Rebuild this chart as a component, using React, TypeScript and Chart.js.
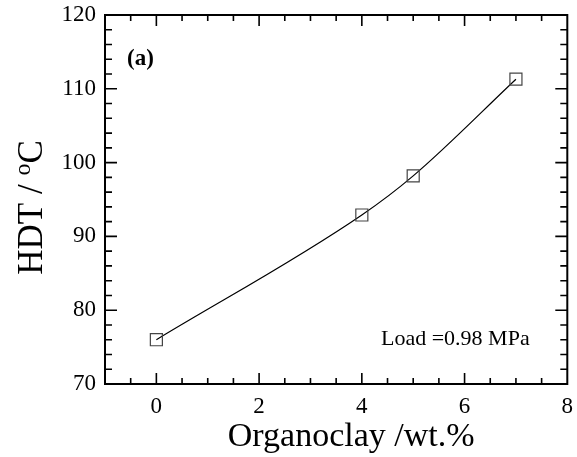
import React, { useEffect, useRef } from 'react';
import { Chart, registerables } from 'chart.js';

Chart.register(...registerables);

// ---- data ----
const organoclay = [0, 4, 5, 7];
const hdt = [76.0, 92.9, 98.2, 111.3];

// ---- axes ----
const xRange = [-1, 8];
const yRange = [70, 120];
const xTickValues = [0, 2, 4, 6, 8];
const yTickValues = [70, 80, 90, 100, 110, 120];
const xMinorStep = 0.5;
const yMinorStep = 2;

// ---- texts ----
const panelLabel = '(a)';
const loadNote = 'Load =0.98 MPa';
const xTitle = 'Organoclay /wt.%';
const yTitleMain = 'HDT / ';
const yTitleSup = 'o';
const yTitleEnd = 'C';

const SERIF = '"Liberation Serif", "Times New Roman", Times, serif';

const framePlugin = {
  id: 'frameTicks',
  afterDatasetsDraw(chart: any) {
    const { ctx, chartArea: a, scales } = chart;
    const xs = scales.x;
    const ys = scales.y;
    ctx.save();
    ctx.strokeStyle = '#000';
    ctx.lineWidth = 1.6;
    ctx.beginPath();
    const nx = Math.round((xRange[1] - xRange[0]) / xMinorStep);
    for (let i = 1; i < nx; i++) {
      const v = xRange[0] + i * xMinorStep;
      const major = xTickValues.some((t) => Math.abs(t - v) < 1e-9);
      const len = major ? 11 : 6;
      const px = xs.getPixelForValue(v);
      ctx.moveTo(px, a.bottom);
      ctx.lineTo(px, a.bottom - len);
      ctx.moveTo(px, a.top);
      ctx.lineTo(px, a.top + len);
    }
    const ny = Math.round((yRange[1] - yRange[0]) / yMinorStep);
    for (let i = 1; i < ny; i++) {
      const v = yRange[0] + i * yMinorStep;
      const major = yTickValues.some((t) => Math.abs(t - v) < 1e-9);
      const len = major ? 12 : 7;
      const py = ys.getPixelForValue(v);
      ctx.moveTo(a.left, py);
      ctx.lineTo(a.left + len, py);
      ctx.moveTo(a.right, py);
      ctx.lineTo(a.right - len, py);
    }
    ctx.stroke();
    ctx.lineWidth = 2;
    ctx.strokeRect(a.left, a.top, a.right - a.left, a.bottom - a.top);

    // annotations
    ctx.fillStyle = '#000';
    ctx.textBaseline = 'alphabetic';
    ctx.textAlign = 'left';
    ctx.font = `bold 23px ${SERIF}`;
    ctx.fillText(panelLabel, a.left + 22, a.top + 50);

    ctx.font = `22px ${SERIF}`;
    ctx.fillText(loadNote, a.left + 276, a.bottom - 39);

    // x title
    ctx.font = `34px ${SERIF}`;
    ctx.textAlign = 'center';
    ctx.fillText(xTitle, (a.left + a.right) / 2 + 15, a.bottom + 62);

    // y title (rotated)
    ctx.save();
    const cy = (a.top + a.bottom) / 2 + 8;
    ctx.translate(42, cy);
    ctx.rotate(-Math.PI / 2);
    ctx.textAlign = 'left';
    const mainFont = `35px ${SERIF}`;
    const supFont = `24px ${SERIF}`;
    ctx.font = mainFont;
    const w1 = ctx.measureText(yTitleMain).width;
    const w3 = ctx.measureText(yTitleEnd).width;
    ctx.font = supFont;
    const w2 = ctx.measureText(yTitleSup).width;
    const total = w1 + w2 + w3;
    let x0 = -total / 2;
    ctx.font = mainFont;
    ctx.fillText(yTitleMain, x0, 0);
    x0 += w1;
    ctx.font = supFont;
    ctx.fillText(yTitleSup, x0, -12);
    x0 += w2;
    ctx.font = mainFont;
    ctx.fillText(yTitleEnd, x0, 0);
    ctx.restore();

    ctx.restore();
  },
};

export default function App() {
  const canvasRef = useRef<HTMLCanvasElement | null>(null);

  useEffect(() => {
    const canvas = canvasRef.current;
    if (!canvas) return;
    const chart = new Chart(canvas, {
      type: 'line',
      data: {
        datasets: [
          {
            data: organoclay.map((x, i) => ({ x, y: hdt[i] })),
            borderColor: '#000',
            borderWidth: 1.2,
            cubicInterpolationMode: 'monotone',
            pointStyle: 'rect',
            pointRadius: 8.5,
            pointBorderColor: '#444',
            pointBorderWidth: 1.2,
            pointBackgroundColor: 'rgba(0,0,0,0)',
            fill: false,
          },
        ],
      },
      options: {
        responsive: false,
        animation: false,
        events: [],
        layout: { padding: { top: 15, right: 8, left: 0, bottom: 0 } },
        plugins: {
          legend: { display: false },
          tooltip: { enabled: false },
          title: { display: false },
        },
        scales: {
          x: {
            type: 'linear',
            min: xRange[0],
            max: xRange[1],
            afterBuildTicks: (scale: any) => {
              scale.ticks = xTickValues.map((v) => ({ value: v }));
            },
            afterFit: (scale: any) => {
              scale.height = 73;
              scale.paddingLeft = 0;
              scale.paddingRight = 0;
            },
            grid: { display: false, drawTicks: false, tickLength: 0 },
            border: { display: false },
            ticks: {
              color: '#000',
              font: { family: SERIF, size: 23 },
              padding: 9,
              maxRotation: 0,
              autoSkip: false,
              callback: (v: any) => String(v),
            },
          },
          y: {
            type: 'linear',
            min: yRange[0],
            max: yRange[1],
            afterBuildTicks: (scale: any) => {
              scale.ticks = yTickValues.map((v) => ({ value: v }));
            },
            afterFit: (scale: any) => {
              scale.width = 105;
              scale.paddingTop = 0;
              scale.paddingBottom = 0;
            },
            grid: { display: false, drawTicks: false, tickLength: 0 },
            border: { display: false },
            ticks: {
              color: '#000',
              font: { family: SERIF, size: 23 },
              padding: 9,
              autoSkip: false,
              callback: (v: any) => String(v),
            },
          },
        },
      },
      plugins: [framePlugin],
    } as any);
    return () => chart.destroy();
  }, []);

  return (
    <div style={{ position: 'fixed', left: 0, top: 0, width: 577, height: 457, background: '#fff' }}>
      <canvas ref={canvasRef} width={577} height={457} style={{ display: 'block' }} />
    </div>
  );
}
